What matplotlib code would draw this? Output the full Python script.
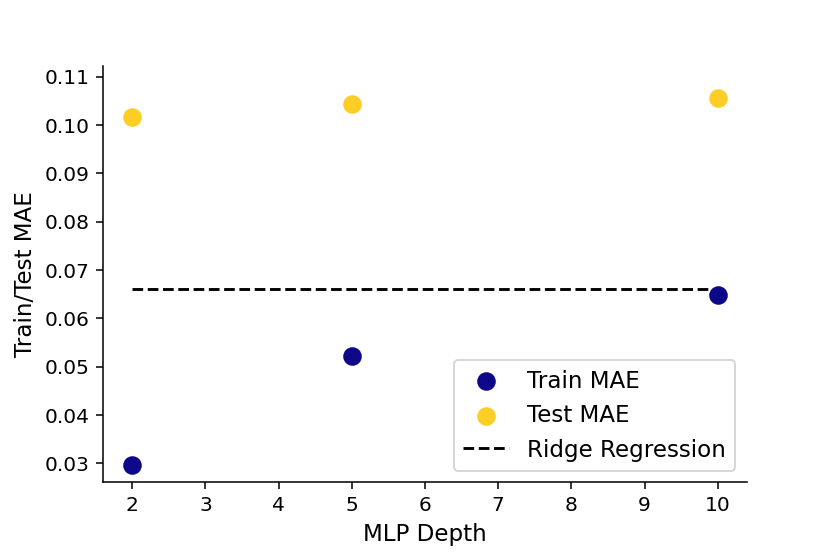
import matplotlib
matplotlib.use("Agg")
import matplotlib.pyplot as plt

depths = [2, 5, 10]
train_mae = [0.0296, 0.0522, 0.0648]
test_mae = [0.1016, 0.1043, 0.1055]
ridge_mae = 0.0660

fig, ax = plt.subplots(figsize=(6, 4), dpi=138.33)
fig.subplots_adjust(left=0.124, right=0.9, top=0.881, bottom=0.128)
ax.scatter(depths, train_mae, color='#0d0887', s=75, label='Train MAE', zorder=3)
ax.scatter(depths, test_mae, color='#fccd25', s=75, label='Test MAE', zorder=3)
ax.plot([depths[0], depths[-1]], [ridge_mae, ridge_mae], 'k--', label='Ridge Regression')

ax.set_xticks(range(2, 11))
ax.set_ylim(0.0261, 0.1123)
ax.tick_params(labelsize=10.5)
ax.set_xlabel('MLP Depth', fontsize=12)
ax.set_ylabel('Train/Test MAE', fontsize=12)
ax.spines['top'].set_visible(False)
ax.spines['right'].set_visible(False)
ax.legend(loc='lower right', fontsize=12)

fig.savefig('out.png', dpi=138.33)
